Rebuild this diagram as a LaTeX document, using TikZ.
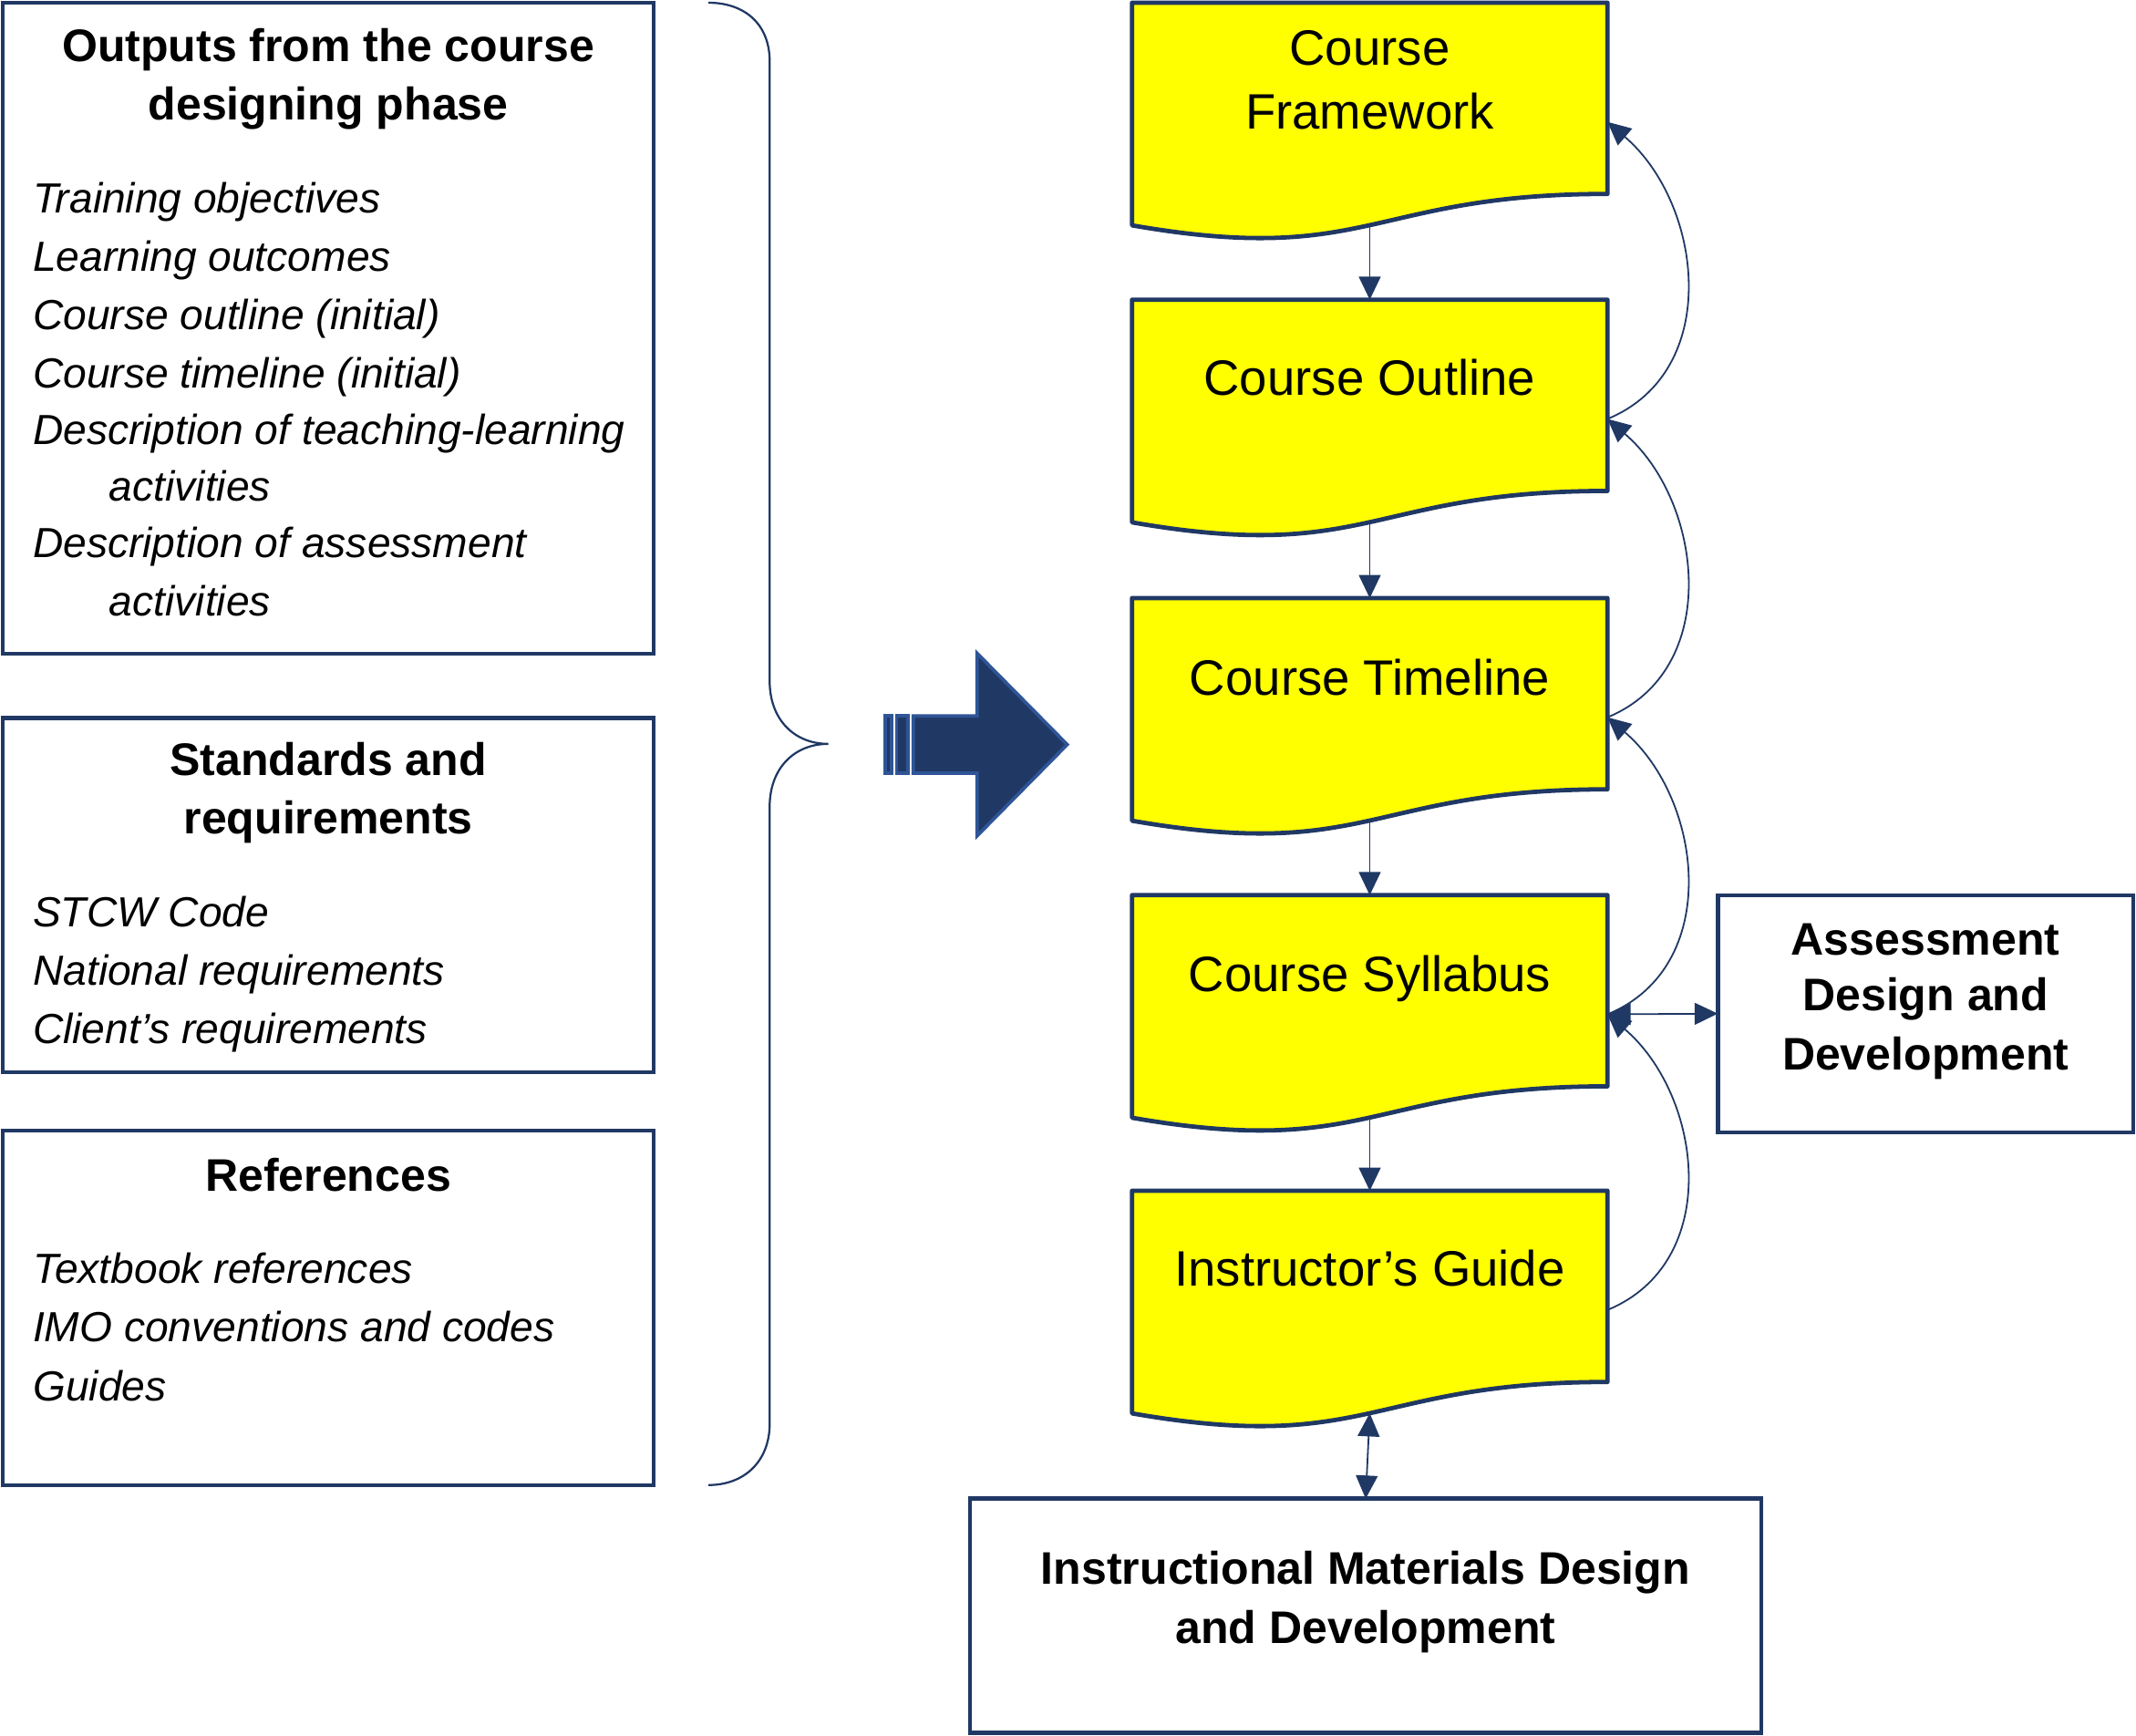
\documentclass[tikz,border=0pt]{standalone}
\usepackage{fontspec}
\setmainfont{Liberation Sans}
\usetikzlibrary{arrows.meta,calc}
\definecolor{navy}{RGB}{32,56,100}
\definecolor{arrowblue}{RGB}{47,85,151}
\definecolor{docyellow}{RGB}{255,255,0}
\tikzset{
  boxframe/.style={draw=navy, line width=3pt, fill=white, inner sep=0pt, outer sep=0pt, anchor=north west},
  docpaper/.style={draw=navy, line width=3.2pt, fill=docyellow, line join=round},
  anchorbox/.style={inner sep=0pt, outer sep=0pt, minimum width=349pt, minimum height=175pt, anchor=north west},
  linkline/.style={draw=navy, line width=1.2pt},
  onehead/.style={-{Triangle[length=17pt,width=16pt]}},
  twohead/.style={{Triangle[length=17pt,width=16pt]}-{Triangle[length=17pt,width=16pt]}},
  bracestyle/.style={draw=navy, line width=1.5pt},
  bigarrow/.style={fill=navy, draw=arrowblue, line width=2.5pt, line join=miter},
  itemtext/.style={inner sep=0pt, anchor=base west, font=\fontsize{30.9}{36}\selectfont\itshape},
  headtext/.style={inner sep=0pt, anchor=base, font=\fontsize{33.5}{40}\selectfont\bfseries},
  doctext/.style={inner sep=0pt, anchor=base, font=\fontsize{36.5}{44}\selectfont},
}
\newcommand\mydocshape[3]{%
  \path[docpaper] (#2,#3) -- ++(349,0) -- ++(0,140.35) .. controls +(-174.5,0) and +(174.5,30.4) .. (#2,#3+163.4) -- cycle;
  \node[anchorbox] (#1) at (#2,#3) {};
  \coordinate (#1-b) at (#2+174.5,#3+163.3);
}
\begin{document}
\begin{tikzpicture}[x=1pt,y=-1pt]
\useasboundingbox (0,0) rectangle (1568,1274.2);
\path[fill=white] (0,0) rectangle (1568,1274.2);

% left boxes
\node[boxframe, minimum width=478pt, minimum height=478pt] (outbox) at (2,2) {};
\node[boxframe, minimum width=478pt, minimum height=260pt] (stdbox) at (2,527) {};
\node[boxframe, minimum width=478pt, minimum height=260pt] (refbox) at (2,830) {};

\node[headtext] (outh1) at (241,45) {Outputs from the course};
\node[headtext] (outh2) at (241,88) {designing phase};
\foreach \t/\xx/\yy [count=\i] in {Training objectives/24/156, Learning outcomes/24/199, Course outline (initial)/24/242, Course timeline (initial)/24/285, Description of teaching-learning/24/326, activities/80/368, Description of assessment/24/409, activities/80/452}
  {\node[itemtext] (outi\i) at (\xx,\yy) {\t};}

\node[headtext] (stdh1) at (241,569) {Standards and};
\node[headtext] (stdh2) at (241,612) {requirements};
\foreach \t/\yy [count=\i] in {STCW Code/680, National requirements/723, Client’s requirements/766}
  {\node[itemtext] (stdi\i) at (24,\yy) {\t};}

\node[headtext] (refh1) at (241,874) {References};
\foreach \t/\yy [count=\i] in {Textbook references/942, IMO conventions and codes/985, Guides/1028}
  {\node[itemtext] (refi\i) at (24,\yy) {\t};}

% brace
\draw[bracestyle] (520,2) .. controls (547,2) and (565,18) .. (565,45) -- (565,500)
  .. controls (565,528) and (583,546) .. (608,546)
  .. controls (583,546) and (565,564) .. (565,592) -- (565,1045)
  .. controls (565,1072) and (547,1090) .. (520,1090);

% striped arrow
\path[bigarrow] (649.75,525.45) rectangle (654.55,567.55);
\path[bigarrow] (658.25,525.45) rectangle (666.75,567.55);
\path[bigarrow] (670.45,525.45) -- (717.25,525.45) -- (717.25,479.5) -- (783.4,546.5)
  -- (717.25,613.5) -- (717.25,567.55) -- (670.45,567.55) -- cycle;

% documents
\mydocshape{fw}{831}{2}
\mydocshape{ol}{831}{220}
\mydocshape{tl}{831}{439}
\mydocshape{sy}{831}{657}
\mydocshape{ig}{831}{874}

\node[doctext] (fwt1) at (1005.5,48) {Course};
\node[doctext] (fwt2) at (1005.5,95) {Framework};
\node[doctext] (olt) at (1005.5,290) {Course Outline};
\node[doctext] (tlt) at (1005.5,510) {Course Timeline};
\node[doctext] (syt) at (1005.5,728) {Course Syllabus};
\node[doctext] (igt) at (1005.5,944) {Instructor’s Guide};

% right boxes
\node[boxframe, minimum width=305pt, minimum height=174pt] (asd) at (1261,657) {};
\node[headtext] (asdt1) at (1413.5,701) {Assessment};
\node[headtext] (asdt2) at (1413.5,742) {Design and};
\node[headtext] (asdt3) at (1413.5,785) {Development};

\node[boxframe, minimum width=581pt, minimum height=172pt] (imd) at (712,1100) {};
\node[headtext] (imdt1) at (1002.5,1163) {Instructional Materials Design};
\node[headtext] (imdt2) at (1002.5,1206) {and Development};

% connectors
\draw[linkline, onehead] (fw-b) -- (ol.north);
\draw[linkline, onehead] (ol-b) -- (tl.north);
\draw[linkline, onehead] (tl-b) -- (sy.north);
\draw[linkline, onehead] (sy-b) -- (ig.north);

\draw[linkline, onehead] (ol.east) .. controls +(85,-35) and +(70,60) .. (fw.east);
\draw[linkline, onehead] (tl.east) .. controls +(85,-35) and +(70,60) .. (ol.east);
\draw[linkline, onehead] (sy.east) .. controls +(85,-35) and +(70,60) .. (tl.east);
\draw[linkline, onehead] (ig.east) .. controls +(85,-35) and +(70,60) .. (sy.east);

\draw[linkline, twohead] (sy.east) -- (asd.west);
\draw[linkline, twohead] (ig-b) -- (imd.north);
\end{tikzpicture}
\end{document}
